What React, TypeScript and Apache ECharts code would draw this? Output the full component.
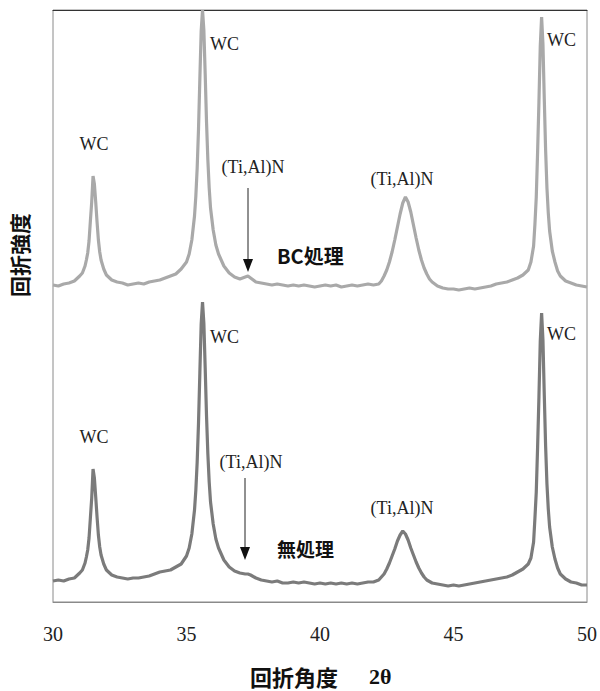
import React, { useEffect, useRef } from "react";
import * as echarts from "echarts";

const xTicks = [30, 35, 40, 45, 50];

// BC処理 pattern: [2θ, intensity]
const bcPattern: [number, number][] = [
  [30.0, 317], [30.2, 316], [30.4, 318], [30.6, 319], [30.8, 321], [31.0, 326], [31.1, 329], [31.2, 336],
  [31.25, 342], [31.3, 349], [31.35, 361], [31.4, 381], [31.45, 400], [31.5, 426], [31.55, 418], [31.6, 400],
  [31.65, 380], [31.7, 362], [31.75, 350], [31.8, 342], [31.9, 333], [32.0, 327], [32.2, 322], [32.4, 320],
  [32.6, 319], [32.8, 317], [33.0, 318], [33.2, 319], [33.4, 318], [33.6, 320], [33.8, 321], [34.0, 322],
  [34.2, 324], [34.4, 326], [34.6, 328], [34.8, 333], [35.0, 340], [35.1, 348], [35.2, 362], [35.3, 386],
  [35.35, 406], [35.4, 434], [35.45, 473], [35.5, 523], [35.55, 571], [35.6, 592], [35.65, 572], [35.7, 528],
  [35.75, 480], [35.8, 442], [35.85, 414], [35.9, 394], [36.0, 372], [36.1, 357], [36.2, 348], [36.4, 336],
  [36.6, 329], [36.8, 325], [37.0, 323], [37.2, 325], [37.3, 326], [37.4, 324], [37.6, 320], [37.8, 319],
  [38.0, 318], [38.2, 317], [38.4, 318], [38.6, 317], [38.8, 316], [39.0, 317], [39.2, 316], [39.4, 317],
  [39.6, 316], [39.8, 315], [40.0, 316], [40.2, 317], [40.4, 316], [40.6, 317], [40.8, 315], [41.0, 316],
  [41.2, 317], [41.4, 316], [41.6, 317], [41.8, 318], [42.0, 317], [42.2, 318], [42.3, 321], [42.4, 326],
  [42.5, 332], [42.6, 340], [42.7, 350], [42.8, 362], [42.9, 375], [43.0, 388], [43.1, 399], [43.2, 405],
  [43.3, 400], [43.4, 390], [43.5, 377], [43.6, 364], [43.7, 352], [43.8, 342], [43.9, 334], [44.0, 328],
  [44.1, 323], [44.2, 320], [44.4, 316], [44.6, 314], [44.8, 313], [45.0, 313], [45.2, 312], [45.4, 313],
  [45.6, 314], [45.8, 313], [46.0, 314], [46.2, 315], [46.4, 316], [46.6, 318], [46.8, 319], [47.0, 320],
  [47.2, 322], [47.4, 324], [47.6, 327], [47.8, 332], [47.9, 340], [48.0, 356], [48.05, 378], [48.1, 405],
  [48.15, 450], [48.2, 500], [48.25, 556], [48.3, 585], [48.35, 558], [48.4, 503], [48.45, 452], [48.5, 414],
  [48.55, 389], [48.6, 371], [48.7, 351], [48.8, 340], [48.9, 331], [49.0, 326], [49.2, 321], [49.4, 319],
  [49.6, 317], [49.8, 316], [50.0, 315],
];

// 無処理 pattern: [2θ, intensity]
const untreatedPattern: [number, number][] = [
  [30.0, 21], [30.2, 22], [30.4, 21], [30.6, 23], [30.8, 24], [31.0, 29], [31.1, 32], [31.2, 39],
  [31.25, 45], [31.3, 52], [31.35, 64], [31.4, 84], [31.45, 104], [31.5, 133], [31.55, 124], [31.6, 105],
  [31.65, 85], [31.7, 67], [31.75, 55], [31.8, 47], [31.9, 38], [32.0, 32], [32.2, 27], [32.4, 25],
  [32.6, 24], [32.8, 23], [33.0, 24], [33.2, 24], [33.4, 25], [33.6, 26], [33.8, 28], [34.0, 30],
  [34.2, 31], [34.4, 32], [34.6, 35], [34.8, 38], [35.0, 46], [35.1, 54], [35.2, 68], [35.3, 92],
  [35.35, 112], [35.4, 140], [35.45, 179], [35.5, 229], [35.55, 278], [35.6, 300], [35.65, 279], [35.7, 234],
  [35.75, 186], [35.8, 148], [35.85, 120], [35.9, 100], [36.0, 78], [36.1, 63], [36.2, 54], [36.4, 42],
  [36.6, 35], [36.8, 31], [37.0, 29], [37.2, 28], [37.3, 28], [37.4, 27], [37.6, 24], [37.8, 22],
  [38.0, 21], [38.2, 20], [38.4, 21], [38.6, 19], [38.8, 19], [39.0, 20], [39.2, 19], [39.4, 20],
  [39.6, 19], [39.8, 18], [40.0, 19], [40.2, 18], [40.4, 19], [40.6, 18], [40.8, 19], [41.0, 18],
  [41.2, 19], [41.4, 18], [41.6, 19], [41.8, 20], [42.0, 20], [42.1, 21], [42.2, 22], [42.3, 25],
  [42.4, 28], [42.5, 33], [42.6, 39], [42.7, 46], [42.8, 53], [42.9, 61], [43.0, 67], [43.1, 71],
  [43.2, 68], [43.3, 62], [43.4, 54], [43.5, 47], [43.6, 40], [43.7, 34], [43.8, 29], [43.9, 25],
  [44.0, 22], [44.2, 19], [44.4, 18], [44.6, 17], [44.8, 16], [45.0, 17], [45.2, 16], [45.4, 17],
  [45.6, 18], [45.8, 19], [46.0, 20], [46.2, 21], [46.4, 22], [46.6, 23], [46.8, 24], [47.0, 25],
  [47.2, 27], [47.4, 30], [47.6, 33], [47.8, 38], [47.9, 44], [48.0, 60], [48.05, 84], [48.1, 110],
  [48.15, 155], [48.2, 205], [48.25, 261], [48.3, 289], [48.35, 262], [48.4, 207], [48.45, 156], [48.5, 118],
  [48.55, 93], [48.6, 75], [48.7, 55], [48.8, 43], [48.9, 34], [49.0, 28], [49.2, 23], [49.4, 20],
  [49.6, 19], [49.8, 17], [50.0, 17],
];

const SERIF = '"Liberation Serif", "Times New Roman", serif';
const CJK = '"Noto Sans CJK JP", sans-serif';

function label(text: string, x: number, y: number, align = "center") {
  return {
    type: "text",
    x,
    y,
    style: {
      text,
      font: `18px ${SERIF}`,
      fill: "#222",
      textAlign: align,
      textVerticalAlign: "middle",
    },
  };
}

function arrow(x: number, y1: number, y2: number) {
  return [
    { type: "line", shape: { x1: x, y1, x2: x, y2: y2 - 8 }, style: { stroke: "#222", lineWidth: 1 } },
    {
      type: "polygon",
      shape: { points: [[x - 5, y2 - 13], [x + 5, y2 - 13], [x, y2]] },
      style: { fill: "#111" },
    },
  ];
}

export default function App() {
  const ref = useRef<HTMLDivElement>(null);
  useEffect(() => {
    if (!ref.current) return;
    const chart = echarts.init(ref.current, null, { renderer: "svg" });
    chart.setOption({
      animation: false,
      backgroundColor: "#fff",
      grid: {
        left: 53,
        right: 12,
        top: 10,
        bottom: 89,
        show: true,
        borderColor: "#8a8a8a",
        borderWidth: 1,
      },
      xAxis: [
        {
          type: "value",
          min: 30,
          max: 50,
          interval: 5,
          axisLine: { show: true, lineStyle: { color: "#8a8a8a" } },
          axisTick: { show: false },
          splitLine: { show: false },
          axisLabel: {
            margin: 22,
            fontFamily: SERIF,
            fontSize: 20,
            color: "#222",
            formatter: (v: number) => (xTicks.includes(v) ? String(v) : ""),
          },
        },
        {
          type: "value",
          position: "top",
          min: 30,
          max: 50,
          axisLine: { show: true, lineStyle: { color: "#333" } },
          axisTick: { show: false },
          axisLabel: { show: false },
          splitLine: { show: false },
        },
      ],
      yAxis: {
        type: "value",
        min: 0,
        max: 592,
        show: false,
        splitLine: { show: false },
      },
      series: [
        {
          name: "BC処理",
          type: "line",
          data: bcPattern,
          showSymbol: false,
          symbol: "none",
          lineStyle: { color: "#a9a9a9", width: 3.2 },
          z: 2,
        },
        {
          name: "無処理",
          type: "line",
          data: untreatedPattern,
          showSymbol: false,
          symbol: "none",
          lineStyle: { color: "#7b7b7b", width: 3.2 },
          z: 3,
        },
      ],
      graphic: [
        // top pattern annotations
        label("WC", 94, 144),
        label("WC", 210, 44, "left"),
        label("(Ti,Al)N", 253, 167),
        ...arrow(248, 188, 272),
        {
          type: "text",
          x: 277,
          y: 255,
          style: { text: "BC処理", font: `bold 20px ${CJK}`, fill: "#111", textAlign: "left", textVerticalAlign: "middle" },
        },
        label("(Ti,Al)N", 402, 179),
        label("WC", 547, 40, "left"),
        // bottom pattern annotations
        label("WC", 94, 437),
        label("WC", 210, 337, "left"),
        label("(Ti,Al)N", 251, 462),
        ...arrow(245, 478, 560),
        {
          type: "text",
          x: 277,
          y: 548,
          style: { text: "無処理", font: `bold 19px ${CJK}`, fill: "#111", textAlign: "left", textVerticalAlign: "middle" },
        },
        label("(Ti,Al)N", 402, 508),
        label("WC", 547, 334, "left"),
        // axis titles
        {
          type: "text",
          x: 19,
          y: 255,
          rotation: Math.PI / 2,
          style: { text: "回折強度", font: `bold 21px ${CJK}`, fill: "#111", textAlign: "center", textVerticalAlign: "middle" },
        },
        {
          type: "text",
          x: 250,
          y: 676,
          style: { text: "回折角度", font: `bold 22px ${CJK}`, fill: "#111", textAlign: "left", textVerticalAlign: "middle" },
        },
        {
          type: "text",
          x: 369,
          y: 676,
          style: { text: "2θ", font: `bold 22px ${SERIF}`, fill: "#111", textAlign: "left", textVerticalAlign: "middle" },
        },
      ],
    });
    return () => chart.dispose();
  }, []);
  return (
    <div
      ref={ref}
      style={{ position: "absolute", left: 0, top: 0, width: 600, height: 691 }}
    />
  );
}
